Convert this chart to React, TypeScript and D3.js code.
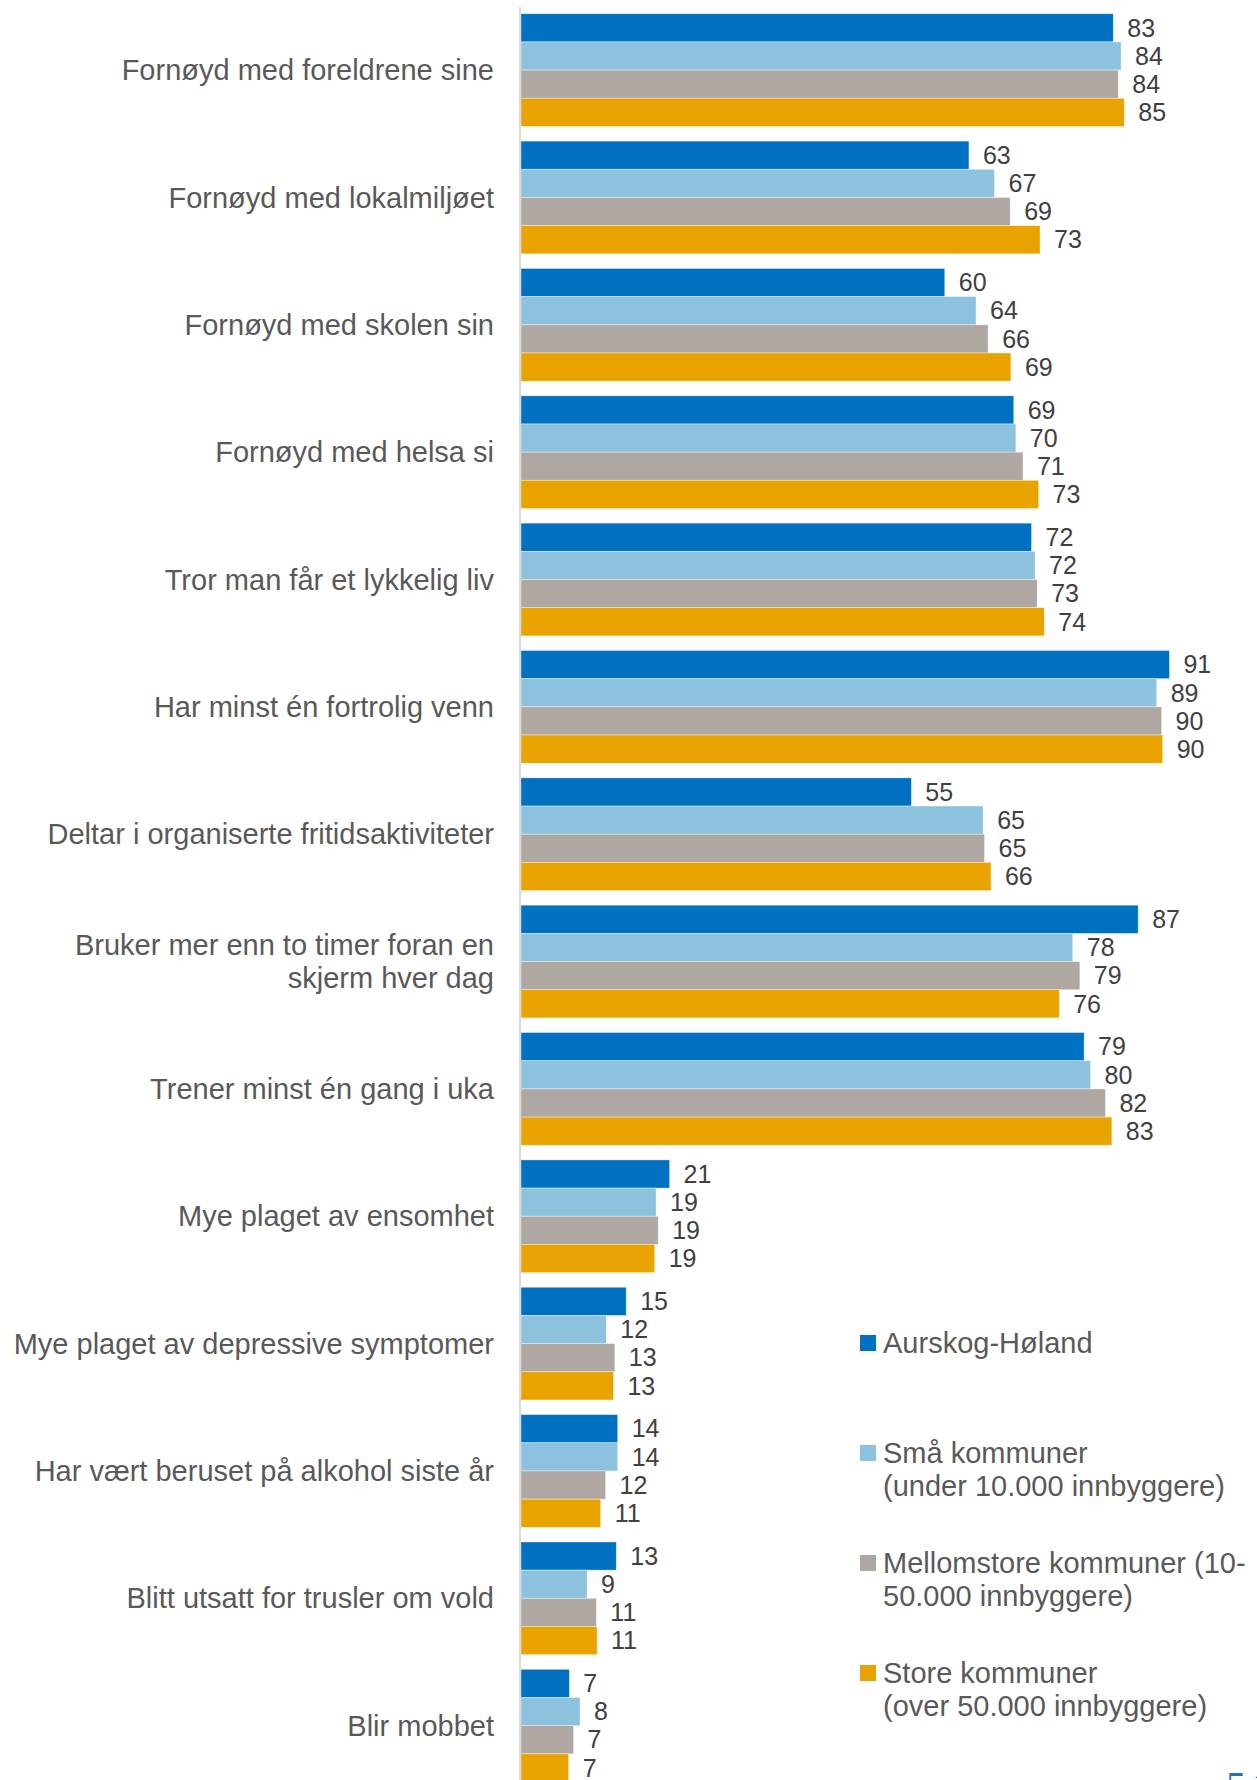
import React from "react";
import * as d3 from "d3";

const categories: string[][] = [
  ["Fornøyd med foreldrene sine"],
  ["Fornøyd med lokalmiljøet"],
  ["Fornøyd med skolen sin"],
  ["Fornøyd med helsa si"],
  ["Tror man får et lykkelig liv"],
  ["Har minst én fortrolig venn"],
  ["Deltar i organiserte fritidsaktiviteter"],
  ["Bruker mer enn to timer foran en", "skjerm hver dag"],
  ["Trener minst én gang i uka"],
  ["Mye plaget av ensomhet"],
  ["Mye plaget av depressive symptomer"],
  ["Har vært beruset på alkohol siste år"],
  ["Blitt utsatt for trusler om vold"],
  ["Blir mobbet"],
];

const seriesNames: string[][] = [
  ["Aurskog-Høland"],
  ["Små kommuner", "(under 10.000 innbyggere)"],
  ["Mellomstore kommuner (10-", "50.000 innbyggere)"],
  ["Store kommuner", "(over 50.000 innbyggere)"],
];

const seriesColors = ["#0070C0", "#8DC2DF", "#AFA8A2", "#E8A300"];

// bar values (label = rounded value)
const aurskogHoland = [83.3, 63.0, 59.6, 69.3, 71.8, 91.2, 54.9, 86.8, 79.2, 20.9, 14.8, 13.6, 13.4, 6.8];
const smaKommuner = [84.4, 66.6, 64.0, 69.6, 72.3, 89.4, 65.0, 77.6, 80.1, 19.0, 12.0, 13.6, 9.3, 8.3];
const mellomstoreKommuner = [84.0, 68.8, 65.7, 70.6, 72.6, 90.1, 65.2, 78.6, 82.2, 19.3, 13.2, 11.9, 10.6, 7.4];
const storeKommuner = [84.85, 73.0, 68.9, 72.8, 73.6, 90.25, 66.1, 75.7, 83.1, 18.8, 13.0, 11.2, 10.7, 6.7];

const seriesValues = [aurskogHoland, smaKommuner, mellomstoreKommuner, storeKommuner];

const W = 1257;
const H = 1780;
const FONT = "'Liberation Sans', Arial, Helvetica, sans-serif";

export default function App() {
  const x = d3.scaleLinear().domain([0, 100]).range([521, 1232]);
  const step = 127.35;
  const top = 13.75 - 0.0575 * step;
  const y0 = d3
    .scaleBand<number>()
    .domain(d3.range(categories.length))
    .range([top, top + categories.length * step])
    .paddingInner(0.115)
    .paddingOuter(0.0575);
  const y1 = d3
    .scaleBand<number>()
    .domain(d3.range(seriesValues.length))
    .range([0, y0.bandwidth()]);

  const legendX = 860;
  const legendTop = 1343;
  const legendStep = 110;
  const lineH = 32.5;
  const valFont = 25;

  return (
    <svg
      width={W}
      height={H}
      style={{ position: "absolute", left: 0, top: 0, background: "#fff" }}
      fontFamily={FONT}
    >
      <rect x={0} y={0} width={W} height={H} fill="#fff" />
      {/* bars */}
      {categories.map((cat, ci) => (
        <g key={ci} transform={`translate(0,${y0(ci)})`}>
          {seriesValues.map((vals, si) => {
            const v = vals[ci];
            const yy = y1(si)!;
            const bh = y1.bandwidth();
            return (
              <g key={si}>
                <rect
                  x={x(0)}
                  y={yy}
                  width={x(v) - x(0)}
                  height={bh}
                  fill={seriesColors[si]}
                  stroke="#ffffff"
                  strokeOpacity={0.5}
                  strokeWidth={0.75}
                />
                <text
                  x={x(v) + 14}
                  y={yy + bh / 2 + valFont * 0.35}
                  fontSize={valFont}
                  fill="#404040"
                >
                  {Math.round(v)}
                </text>
              </g>
            );
          })}
        </g>
      ))}
      {/* category labels */}
      {categories.map((lines, ci) => {
        const cy = y0(ci)! + y0.bandwidth() / 2;
        return (
          <text key={ci} textAnchor="end" fontSize={29} fill="#595959">
            {lines.map((ln, li) => (
              <tspan
                key={li}
                x={494}
                y={cy + (li - (lines.length - 1) / 2) * 33 + 29 * 0.35}
              >
                {ln}
              </tspan>
            ))}
          </text>
        );
      })}
      {/* axis line */}
      <line x1={520} x2={520} y1={7} y2={H} stroke="#D9D9D9" strokeWidth={2} />
      {/* legend */}
      {seriesNames.map((lines, si) => {
        const ly = legendTop + si * legendStep;
        return (
          <g key={si}>
            <rect x={legendX} y={ly - 8} width={16} height={16} fill={seriesColors[si]} />
            <text fontSize={29} fill="#595959">
              {lines.map((ln, li) => (
                <tspan key={li} x={legendX + 23} y={ly + li * lineH + 29 * 0.35}>
                  {ln}
                </tspan>
              ))}
            </text>
          </g>
        );
      })}
      {/* page number (cut off at the bottom edge, as in the source) */}
      <text
        x={1226}
        y={1799}
        fontSize={40}
        fontFamily="'Liberation Serif', 'DejaVu Serif', serif"
        fill="#2E6DB4"
        letterSpacing={6}
      >
        51
      </text>
    </svg>
  );
}
